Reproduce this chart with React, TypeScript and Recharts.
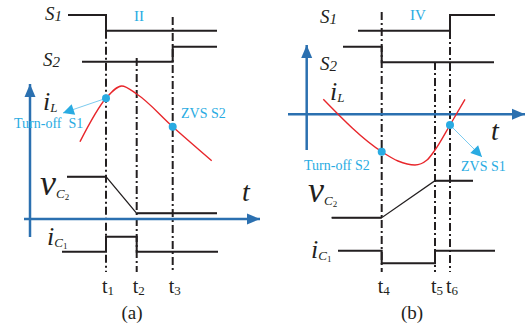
import React from 'react';
import { LineChart, Line, XAxis, YAxis, ReferenceDot } from 'recharts';

type Pt = { t: number; v: number };
const pts = (a: number[][]): Pt[] => a.map(([t, v]) => ({ t, v }));

// ---- panel (a): turn-off of S1, interval II ----
const s1A = pts([[68, 15], [106, 15], [106, 30.7], [217, 30.7]]);
const s2A = pts([[82, 61.7], [172.7, 61.7], [172.7, 46.7], [217, 46.7]]);
const iLA = pts([[80, 141.7], [106, 98.3], [121.7, 86], [136.7, 94], [172.7, 126.7], [211.7, 160.7]]);
const vC2A = pts([[67, 176.7], [106, 176.7], [136.7, 213.3], [217, 213.3]]);
const iC1A = pts([[62, 251.7], [106, 251.7], [106, 236.7], [136.7, 236.7], [136.7, 251.7], [218, 251.7]]);
const instantsA = [106, 136.7, 172.7];
const markerTopsA = [30.7, 58, 17];
const axisVA = pts([[30, 237], [30, 84]]);
const axisHA = pts([[24, 219], [260, 219]]);
const eventDotsA = pts([[106, 98.3], [172.7, 126.7]]);
const pointerA = pts([[106, 98.3], [63, 113]]);

// ---- panel (b): turn-off of S2, interval IV ----
const s1B = pts([[358, 30.7], [450, 30.7], [450, 15], [495, 15]]);
const s2B = pts([[343, 46.7], [381.7, 46.7], [381.7, 62.3], [494, 62.3]]);
const iLB = pts([[323.3, 99.3], [381.7, 151.7], [398, 161], [415, 165], [427, 160], [435, 150], [450, 125], [465, 99.3]]);
const vC2B = pts([[331.7, 217.7], [381.7, 217.7], [435, 180.7], [473, 180.7]]);
const iC1B = pts([[338, 250.7], [381.7, 250.7], [381.7, 263.3], [435, 263.3], [435, 250.7], [495, 250.7]]);
const instantsB = [381.7, 435, 450];
const markerTopsB = [12, 62, 31];
const axisVB = pts([[306.7, 150], [306.7, 45]]);
const axisHB = pts([[288, 114.3], [525, 114.3]]);
const eventDotsB = pts([[381.7, 151.7], [450, 125]]);
const pointerB = pts([[450, 125], [482, 157]]);

const markerBottom = 272;

// ---- text ----
const switchLabels = [
  { t: 45, v: 20, name: 'S', idx: '1' },
  { t: 43, v: 66, name: 'S', idx: '2' },
  { t: 320, v: 23, name: 'S', idx: '1' },
  { t: 320, v: 70, name: 'S', idx: '2' },
];
const quantityLabels = [
  { t: 43, v: 110, sym: 'i', sub: 'L', idx: '' },
  { t: 40, v: 195, sym: 'v', sub: 'C', idx: '2' },
  { t: 47, v: 245, sym: 'i', sub: 'C', idx: '1' },
  { t: 330, v: 100, sym: 'i', sub: 'L', idx: '' },
  { t: 308, v: 202, sym: 'v', sub: 'C', idx: '2' },
  { t: 311, v: 258, sym: 'i', sub: 'C', idx: '1' },
];
const timeAxisLabels = [{ t: 242, v: 201 }, { t: 491, v: 140 }];
const intervalLabels = [{ t: 139, v: 21, text: 'II' }, { t: 418, v: 20, text: 'IV' }];
const notes = [
  { t: 14, v: 128, text: 'Turn-off  S1' },
  { t: 181, v: 118, text: 'ZVS S2' },
  { t: 304, v: 170, text: 'Turn-off S2' },
  { t: 461, v: 171, text: 'ZVS S1' },
];
const instantLabels = [...instantsA, ...instantsB].map((t, i) => ({ t, v: 293, n: String(i + 1) }));
const captions = [{ t: 132, v: 319, text: '(a)' }, { t: 412, v: 319, text: '(b)' }];

const SERIF = '"Liberation Serif", "Times New Roman", serif';
const BLACK = '#231f20';
const AXIS = '#2b70b0';
const CYAN = '#29abe2';
const RED = '#e8262b';

const markerLines = [
  ...instantsA.map((t, i) => pts([[t, markerTopsA[i]], [t, markerBottom]])),
  ...instantsB.map((t, i) => pts([[t, markerTopsB[i]], [t, markerBottom]])),
];

const arrowHead = (line: Pt[], len: number, half: number, color: string) => (p: any) => {
  const n = line.length;
  if (p.index !== n - 1) return <g key={`d${p.index}`} />;
  const a = line[n - 2];
  const b = line[n - 1];
  const dx = b.t - a.t;
  const dy = b.v - a.v;
  const d = Math.hypot(dx, dy);
  const ux = dx / d;
  const uy = dy / d;
  const bx = p.cx - ux * len;
  const by = p.cy - uy * len;
  const poly = `${p.cx},${p.cy} ${bx - uy * half},${by + ux * half} ${bx + uy * half},${by - ux * half}`;
  return <polygon key={`d${p.index}`} points={poly} fill={color} />;
};

const signals = [s1A, s2A, iC1A, s1B, s2B, iC1B];
// capacitor voltage: thin ramp, heavier flat levels
const rampTraces = [vC2A, vC2B];
const levelTraces = [vC2A.slice(0, 2), vC2A.slice(2), vC2B.slice(0, 2), vC2B.slice(2)];

export default function App() {
  return (
    <div style={{ position: 'absolute', left: 0, top: 0, width: 530, height: 328, background: '#fff' }}>
      <LineChart width={530} height={328} margin={{ top: 0, right: 0, bottom: 0, left: 0 }}>
        <XAxis type="number" dataKey="t" domain={[0, 530]} hide allowDataOverflow />
        <YAxis type="number" dataKey="v" domain={[0, 328]} reversed hide allowDataOverflow />

        {markerLines.map((m, i) => (
          <Line key={`m${i}`} data={m} dataKey="v" stroke={BLACK} strokeWidth={2}
            strokeDasharray="8 3 2 3" dot={false} isAnimationActive={false} />
        ))}

        {[axisVA, axisHA, axisVB, axisHB].map((a, i) => (
          <Line key={`ax${i}`} data={a} dataKey="v" stroke={AXIS} strokeWidth={2.5}
            dot={arrowHead(a, 13, 5.5, AXIS)} activeDot={false} isAnimationActive={false} />
        ))}

        {signals.map((s, i) => (
          <Line key={`s${i}`} data={s} dataKey="v" type="linear" stroke={BLACK} strokeWidth={2}
            dot={false} isAnimationActive={false} />
        ))}
        {rampTraces.map((s, i) => (
          <Line key={`r${i}`} data={s} dataKey="v" type="linear" stroke={BLACK} strokeWidth={1.3}
            dot={false} isAnimationActive={false} />
        ))}
        {levelTraces.map((s, i) => (
          <Line key={`l${i}`} data={s} dataKey="v" type="linear" stroke={BLACK} strokeWidth={2}
            dot={false} isAnimationActive={false} />
        ))}

        <Line data={iLA} dataKey="v" type="monotone" stroke={RED} strokeWidth={1.4} dot={false} isAnimationActive={false} />
        <Line data={iLB} dataKey="v" type="monotone" stroke={RED} strokeWidth={1.4} dot={false} isAnimationActive={false} />

        {[pointerA, pointerB].map((a, i) => (
          <Line key={`p${i}`} data={a} dataKey="v" stroke="#7ccbef" strokeWidth={1}
            dot={arrowHead(a, 11, 5.5, CYAN)} activeDot={false} isAnimationActive={false} />
        ))}

        {[...eventDotsA, ...eventDotsB].map((d, i) => (
          <ReferenceDot key={`e${i}`} x={d.t} y={d.v} r={4} fill={CYAN} stroke="none" ifOverflow="visible" />
        ))}

        {switchLabels.map((l, i) => (
          <ReferenceDot key={`sw${i}`} x={l.t} y={l.v} r={0} ifOverflow="visible"
            shape={(p: any) => (
              <text x={p.cx} y={p.cy} fontFamily={SERIF} fontStyle="italic" fill={BLACK}>
                <tspan fontSize={19}>{l.name}</tspan>
                <tspan fontSize={15} dy={1}>{l.idx}</tspan>
              </text>
            )} />
        ))}

        {quantityLabels.map((l, i) => (
          <ReferenceDot key={`q${i}`} x={l.t} y={l.v} r={0} ifOverflow="visible"
            shape={(p: any) => (
              <text x={p.cx} y={p.cy} fontFamily={SERIF} fill={BLACK}>
                <tspan fontStyle="italic" fontSize={l.sym === 'v' ? 36 : 26}>{l.sym}</tspan>
                <tspan fontStyle="italic" fontSize={13} dy={l.sym === 'v' ? 3 : 2}>{l.sub}</tspan>
                {l.idx ? <tspan fontSize={9} dy={2}>{l.idx}</tspan> : null}
              </text>
            )} />
        ))}

        {timeAxisLabels.map((l, i) => (
          <ReferenceDot key={`ta${i}`} x={l.t} y={l.v} r={0} ifOverflow="visible"
            shape={(p: any) => (
              <text x={p.cx} y={p.cy} fontFamily={SERIF} fontStyle="italic" fontSize={28} fill={BLACK}>t</text>
            )} />
        ))}

        {instantLabels.map((l, i) => (
          <ReferenceDot key={`in${i}`} x={l.t} y={l.v} r={0} ifOverflow="visible"
            shape={(p: any) => (
              <text x={p.cx - 4} y={p.cy} fontFamily={SERIF} fill={BLACK}>
                <tspan fontSize={20}>t</tspan>
                <tspan fontSize={13} dy={2}>{l.n}</tspan>
              </text>
            )} />
        ))}

        {intervalLabels.map((l, i) => (
          <ReferenceDot key={`iv${i}`} x={l.t} y={l.v} r={0} ifOverflow="visible"
            shape={(p: any) => (
              <text x={p.cx} y={p.cy} fontFamily={SERIF} fontSize={15} fill={CYAN} textAnchor="middle">{l.text}</text>
            )} />
        ))}

        {notes.map((l, i) => (
          <ReferenceDot key={`n${i}`} x={l.t} y={l.v} r={0} ifOverflow="visible"
            shape={(p: any) => (
              <text x={p.cx} y={p.cy} fontFamily={SERIF} fontSize={14} fill={CYAN} xmlSpace="preserve" style={{ whiteSpace: 'pre' }}>{l.text}</text>
            )} />
        ))}

        {captions.map((l, i) => (
          <ReferenceDot key={`c${i}`} x={l.t} y={l.v} r={0} ifOverflow="visible"
            shape={(p: any) => (
              <text x={p.cx} y={p.cy} fontFamily={SERIF} fontSize={19} fill={BLACK} textAnchor="middle">{l.text}</text>
            )} />
        ))}
      </LineChart>
    </div>
  );
}
